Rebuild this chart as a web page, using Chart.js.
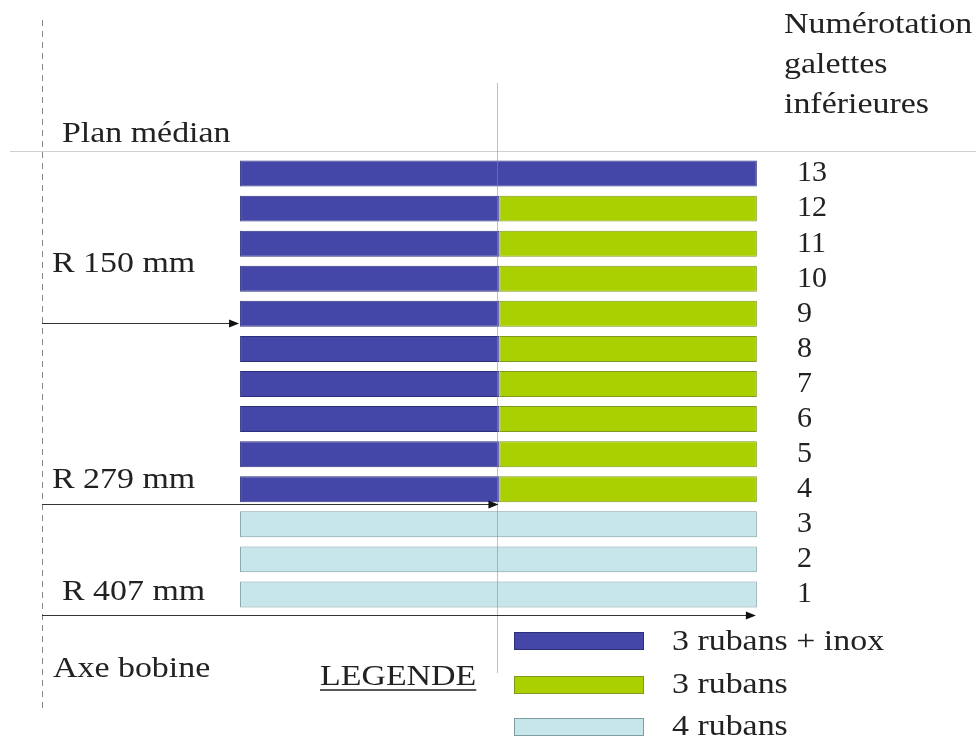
<!DOCTYPE html>
<html>
<head>
<meta charset="utf-8">
<script src="https://cdn.jsdelivr.net/npm/chart.js@4"></script>
<style>
  html, body { margin: 0; padding: 0; background: #fff; }
  #wrap { width: 976px; height: 740px; position: relative; }
</style>
</head>
<body>
<div id="wrap"><canvas id="galettes"></canvas></div>
<script>
// numéros des galettes (haut -> bas)
const galettes = ["13", "12", "11", "10", "9", "8", "7", "6", "5", "4", "3", "2", "1"];

// rayons (mm)
const rayons = [150, 279, 407];
const rayonLabels = ["R 150 mm", "R 279 mm", "R 407 mm"];

// bornes radiales de chaque galette, par type de conducteur
const ruban3Inox = [[150, 407], [150, 279], [150, 279], [150, 279], [150, 279], [150, 279],
  [150, 279], [150, 279], [150, 279], [150, 279], null, null, null];
const ruban3 = [null, [279, 407], [279, 407], [279, 407], [279, 407], [279, 407],
  [279, 407], [279, 407], [279, 407], [279, 407], null, null, null];
const ruban4 = [null, null, null, null, null, null, null, null, null, null,
  [150, 407], [150, 407], [150, 407]];

const legendLabels = ["3 rubans + inox", "3 rubans", "4 rubans"];

const FONT = '"Liberation Serif", "Times New Roman", serif';
const INK = "#222";

function stretchText(ctx, txt, x, y, size) {
  ctx.save();
  ctx.font = size + "px " + FONT;
  ctx.fillStyle = INK;
  ctx.textBaseline = "alphabetic";
  ctx.textAlign = "left";
  ctx.translate(x, y);
  ctx.scale(1.13, 1);
  ctx.fillText(txt, 0, 0);
  const w = ctx.measureText(txt).width * 1.13;
  ctx.restore();
  return w;
}

function arrow(ctx, x0, x1, y) {
  ctx.save();
  ctx.strokeStyle = "#333";
  ctx.fillStyle = "#111";
  ctx.lineWidth = 1;
  ctx.beginPath();
  ctx.moveTo(x0, y + 0.5);
  ctx.lineTo(x1 - 8, y + 0.5);
  ctx.stroke();
  ctx.beginPath();
  ctx.moveTo(x1, y + 0.5);
  ctx.lineTo(x1 - 10, y - 3.5);
  ctx.lineTo(x1 - 10, y + 4.5);
  ctx.closePath();
  ctx.fill();
  ctx.restore();
}

const schema = {
  id: "schema",
  beforeDatasetsDraw(chart) {
    const ctx = chart.ctx;
    const area = chart.chartArea;
    ctx.save();
    // plan médian
    ctx.strokeStyle = "#d0d0d0";
    ctx.lineWidth = 1;
    ctx.beginPath();
    ctx.moveTo(10, 151.5);
    ctx.lineTo(976, 151.5);
    ctx.stroke();
    // axe bobine
    ctx.strokeStyle = "#888";
    ctx.setLineDash([6, 5]);
    ctx.beginPath();
    ctx.moveTo(area.left - 0.5, 20);
    ctx.lineTo(area.left - 0.5, 712);
    ctx.stroke();
    ctx.restore();
  },
  afterDatasetsDraw(chart) {
    const ctx = chart.ctx;
    const x = chart.scales.x;
    const xm = Math.round(x.getPixelForValue(rayons[1])) - 1.5;
    ctx.save();
    ctx.strokeStyle = "rgba(140,140,140,0.55)";
    ctx.lineWidth = 1;
    ctx.beginPath();
    ctx.moveTo(xm, 83);
    ctx.lineTo(xm, 673);
    ctx.stroke();
    ctx.restore();
  },
  afterDraw(chart) {
    const ctx = chart.ctx;
    const x = chart.scales.x;
    const y = chart.scales.y;
    const x0 = chart.chartArea.left - 1;
    const step = y.getPixelForValue(1) - y.getPixelForValue(0);

    // titre des numéros
    ["Numérotation", "galettes", "inférieures"].forEach((t, i) => stretchText(ctx, t, 784, 33 + i * 40, 30));

    stretchText(ctx, "Plan médian", 62, 142, 30);

    // flèches des rayons
    const yArrows = [
      y.getPixelForValue(galettes.indexOf("9")) + 9,
      (y.getPixelForValue(galettes.indexOf("4")) + y.getPixelForValue(galettes.indexOf("3"))) / 2 - 3,
      y.getPixelForValue(galettes.indexOf("1")) + step * 0.58
    ];
    const labelPos = [[52, 272], [52, 488], [62, 600]];
    rayons.forEach((r, i) => {
      arrow(ctx, x0, x.getPixelForValue(r) - 1, Math.round(yArrows[i]));
      stretchText(ctx, rayonLabels[i], labelPos[i][0], labelPos[i][1], 30);
    });

    stretchText(ctx, "Axe bobine", 53, 677, 30);

    // LEGENDE
    const w = stretchText(ctx, "LEGENDE", 320, 685, 30);
    ctx.save();
    ctx.strokeStyle = INK;
    ctx.lineWidth = 1.5;
    ctx.beginPath();
    ctx.moveTo(320, 690);
    ctx.lineTo(320 + w, 690);
    ctx.stroke();
    ctx.restore();

    const boxTops = [632, 676, 718];
    const baselines = [650, 693, 735];
    chart.data.datasets.forEach((ds, i) => {
      ctx.save();
      ctx.fillStyle = ds.backgroundColor;
      ctx.strokeStyle = ds.borderColor;
      ctx.lineWidth = 1;
      ctx.fillRect(514, boxTops[i], 130, 18);
      ctx.strokeRect(514.5, boxTops[i] + 0.5, 129, 17);
      ctx.restore();
      stretchText(ctx, ds.label, 672, baselines[i], 30);
    });
  }
};

new Chart(document.getElementById("galettes"), {
  type: "bar",
  data: {
    labels: galettes,
    datasets: [
      { label: legendLabels[0], data: ruban3Inox, backgroundColor: "#4447a8", borderColor: "#2e307c" },
      { label: legendLabels[1], data: ruban3, backgroundColor: "#aad000", borderColor: "#7d9a1c" },
      { label: legendLabels[2], data: ruban4, backgroundColor: "#c7e6ea", borderColor: "#7e9ea3" }
    ]
  },
  options: {
    indexAxis: "y",
    responsive: true,
    maintainAspectRatio: false,
    animation: false,
    borderWidth: 1,
    borderSkipped: false,
    barPercentage: 0.74,
    categoryPercentage: 1,
    layout: { padding: { left: 43, top: 156, bottom: 128, right: 0 } },
    plugins: {
      legend: { display: false },
      tooltip: { enabled: false }
    },
    scales: {
      x: { display: false, min: 52, max: 421 },
      y: {
        position: "right",
        stacked: true,
        grid: { display: false, drawTicks: false },
        border: { display: false },
        ticks: { autoSkip: false, padding: 12, color: INK, font: { family: FONT, size: 30 } },
        afterFit(axis) { axis.width = 191; }
      }
    }
  },
  plugins: [schema]
});
</script>
</body>
</html>
